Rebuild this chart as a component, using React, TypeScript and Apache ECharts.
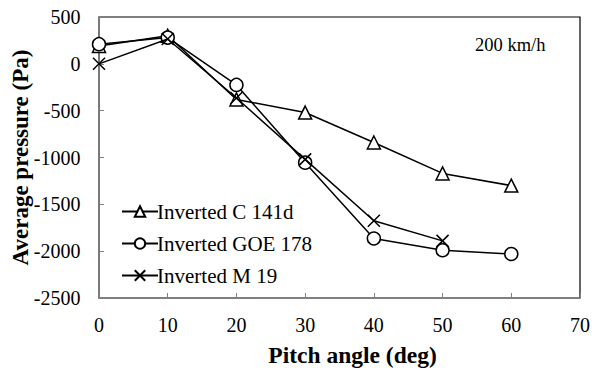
import React, { useEffect, useRef } from "react";
import * as echarts from "echarts";

const pitchAngles = [0, 10, 20, 30, 40, 50, 60];
const seriesNames = ["Inverted C 141d", "Inverted GOE 178", "Inverted M 19"];
const c141d = [190, 300, -380, -520, -840, -1170, -1300];
const goe178 = [210, 280, -225, -1055, -1865, -1990, -2030];
const m19 = [0, 265, -365, -1020, -1675, -1890];
const xTickValues = [0, 10, 20, 30, 40, 50, 60, 70];
const yTickValues = [500, 0, -500, -1000, -1500, -2000, -2500];
const speedLabel = "200 km/h";
const xTitle = "Pitch angle (deg)";
const yTitle = "Average pressure (Pa)";

const FONT = "Liberation Serif";
const crossPath = "path://M0,0L10,10M10,0L0,10";
const X_MIN = 0;
const Y_MIN = -2500;

export default function App() {
  const ref = useRef<HTMLDivElement>(null);
  useEffect(() => {
    if (!ref.current) return;
    const chart = echarts.init(ref.current, null, { renderer: "svg" });
    const mk = (vals: number[]) => vals.map((v, i) => [pitchAngles[i], v]);
    const common = {
      type: "line" as const,
      symbolSize: 13,
      lineStyle: { color: "#000", width: 1.5 },
      itemStyle: { color: "#fff", borderColor: "#000", borderWidth: 1.5 },
      emphasis: { disabled: true },
    };
    const tickLabelSeries = (data: number[][], position: string, distance: number) => ({
      type: "scatter" as const,
      data,
      symbolSize: 1,
      itemStyle: { color: "rgba(0,0,0,0)", borderWidth: 0 },
      silent: true,
      clip: false,
      z: 10,
      emphasis: { disabled: true },
      label: {
        show: true,
        position,
        distance,
        opacity: 1,
        fontFamily: FONT,
        fontSize: 20,
        color: "#000",
        formatter: (p: any) => String(position === "left" ? p.value[1] : p.value[0]),
      },
    });
    chart.setOption({
      animation: false,
      backgroundColor: "#fff",
      grid: {
        left: 99,
        top: 17,
        right: 12,
        bottom: 72,
        show: true,
        borderColor: "#000",
        borderWidth: 1.2,
      },
      xAxis: {
        type: "value",
        min: X_MIN,
        max: 70,
        interval: 10,
        name: xTitle,
        nameLocation: "middle",
        nameGap: 45,
        nameMoveOverlap: false,
        nameTextStyle: { fontFamily: FONT, fontSize: 23.5, fontWeight: "bold", color: "#000", padding: [0, 0, 0, 26] },
        axisLine: { show: true, onZero: false, lineStyle: { color: "#808080", width: 1.5 } },
        axisTick: { show: true, inside: true, length: 5, lineStyle: { color: "#808080" } },
        axisLabel: { show: false },
        splitLine: { show: false },
      },
      yAxis: {
        type: "value",
        min: Y_MIN,
        max: 500,
        interval: 500,
        name: yTitle,
        nameLocation: "middle",
        nameGap: 67,
        nameMoveOverlap: false,
        nameTextStyle: { fontFamily: FONT, fontSize: 23, fontWeight: "bold", color: "#000" },
        axisLine: { show: true, onZero: false, lineStyle: { color: "#808080", width: 1.5 } },
        axisTick: { show: true, inside: true, length: 5, lineStyle: { color: "#808080" } },
        axisLabel: { show: false },
        splitLine: { show: false },
      },
      legend: {
        orient: "vertical",
        left: 116,
        top: 196,
        itemWidth: 36,
        itemHeight: 13,
        itemGap: 11,
        textStyle: { fontFamily: FONT, fontSize: 21, color: "#000", padding: [0, 0, 0, -6] },
        data: seriesNames,
      },
      graphic: {
        elements: [
          {
            type: "text",
            left: 475,
            top: 35,
            style: { text: speedLabel, fontFamily: FONT, fontSize: 18.5, fill: "#000" },
          },
        ],
      },
      series: [
        { ...common, name: seriesNames[0], symbol: "triangle", data: mk(c141d), z: 3 },
        { ...common, name: seriesNames[1], symbol: "circle", data: mk(goe178), z: 4 },
        { ...common, name: seriesNames[2], symbol: crossPath, symbolSize: 12, data: mk(m19), z: 5 },
        { name: "xTickLabels", ...tickLabelSeries(xTickValues.map((v) => [v, Y_MIN]), "bottom", 16) },
        { name: "yTickLabels", ...tickLabelSeries(yTickValues.map((v) => [X_MIN, v]), "left", 18) },
      ],
    });
    return () => chart.dispose();
  }, []);
  return <div ref={ref} style={{ width: 592, height: 372, position: "absolute", left: 0, top: 0 }} />;
}
